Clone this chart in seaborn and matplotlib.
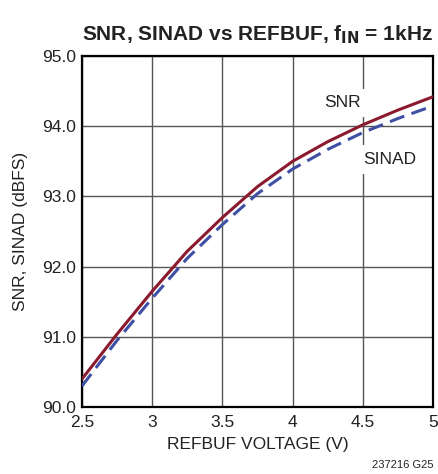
import matplotlib
matplotlib.use("Agg")
import matplotlib.pyplot as plt
import seaborn as sns
import pandas as pd

refbuf = [2.5, 2.75, 3.0, 3.25, 3.5, 3.75, 4.0, 4.25, 4.5, 4.75, 5.0]
snr = [90.40, 91.04, 91.65, 92.22, 92.70, 93.14, 93.50, 93.78, 94.02, 94.23, 94.42]
sinad = [90.30, 90.95, 91.55, 92.12, 92.60, 93.04, 93.39, 93.67, 93.91, 94.11, 94.29]
xticks = [2.5, 3, 3.5, 4, 4.5, 5]
xticklabels = ["2.5", "3", "3.5", "4", "4.5", "5"]
yticks = [90, 91, 92, 93, 94, 95]
yticklabels = ["90.0", "91.0", "92.0", "93.0", "94.0", "95.0"]

sns.set_style("white")
plt.rcParams["font.family"] = ["Liberation Sans", "DejaVu Sans"]

fig = plt.figure(figsize=(4.38, 4.74), dpi=100)
ax = fig.add_axes([0.187, 0.141, 0.802, 0.741])

df = pd.DataFrame({"x": refbuf, "SNR": snr, "SINAD": sinad})
sns.lineplot(data=df, x="x", y="SNR", ax=ax, color="#8B1A2E", lw=2.2, zorder=4)
sns.lineplot(data=df, x="x", y="SINAD", ax=ax, color="#3F4FA3", lw=2.2,
             linestyle=(0, (5, 2.5)), zorder=3)

ax.set_xlim(2.5, 5)
ax.set_ylim(90, 95)
ax.set_xticks(xticks)
ax.set_xticklabels(xticklabels)
ax.set_yticks(yticks)
ax.set_yticklabels(yticklabels)
ax.grid(True, color="#555555", lw=1.0)
ax.set_axisbelow(True)
for s in ax.spines.values():
    s.set_color("black")
    s.set_linewidth(1.6)
ax.tick_params(axis="x", labelsize=12.5, length=0, pad=6, colors="#222222")
ax.tick_params(axis="y", labelsize=12.5, length=0, pad=4, colors="#222222")
ax.set_xlabel("REFBUF VOLTAGE (V)", fontsize=12.5, color="#222222", labelpad=5)
ax.set_ylabel("SNR, SINAD (dBFS)", fontsize=12.5, color="#222222", labelpad=10)

ax.text(4.355, 94.33, "SNR", fontsize=12.5, ha="center", va="center", color="#222222",
        bbox=dict(facecolor="white", edgecolor="none", pad=5), zorder=2)
ax.text(4.69, 93.52, "SINAD", fontsize=12.5, ha="center", va="center", color="#222222",
        bbox=dict(facecolor="white", edgecolor="none", pad=5), zorder=2)

ax.set_title("SNR, SINAD vs REFBUF, f$_{\\mathbf{IN}}$ = 1kHz", fontsize=15,
             fontweight="bold", color="#222222", pad=11)

fig.text(0.989, 0.008, "237216 G25", fontsize=8, ha="right", va="bottom", color="#222222")

fig.savefig("out.png", dpi=100)
